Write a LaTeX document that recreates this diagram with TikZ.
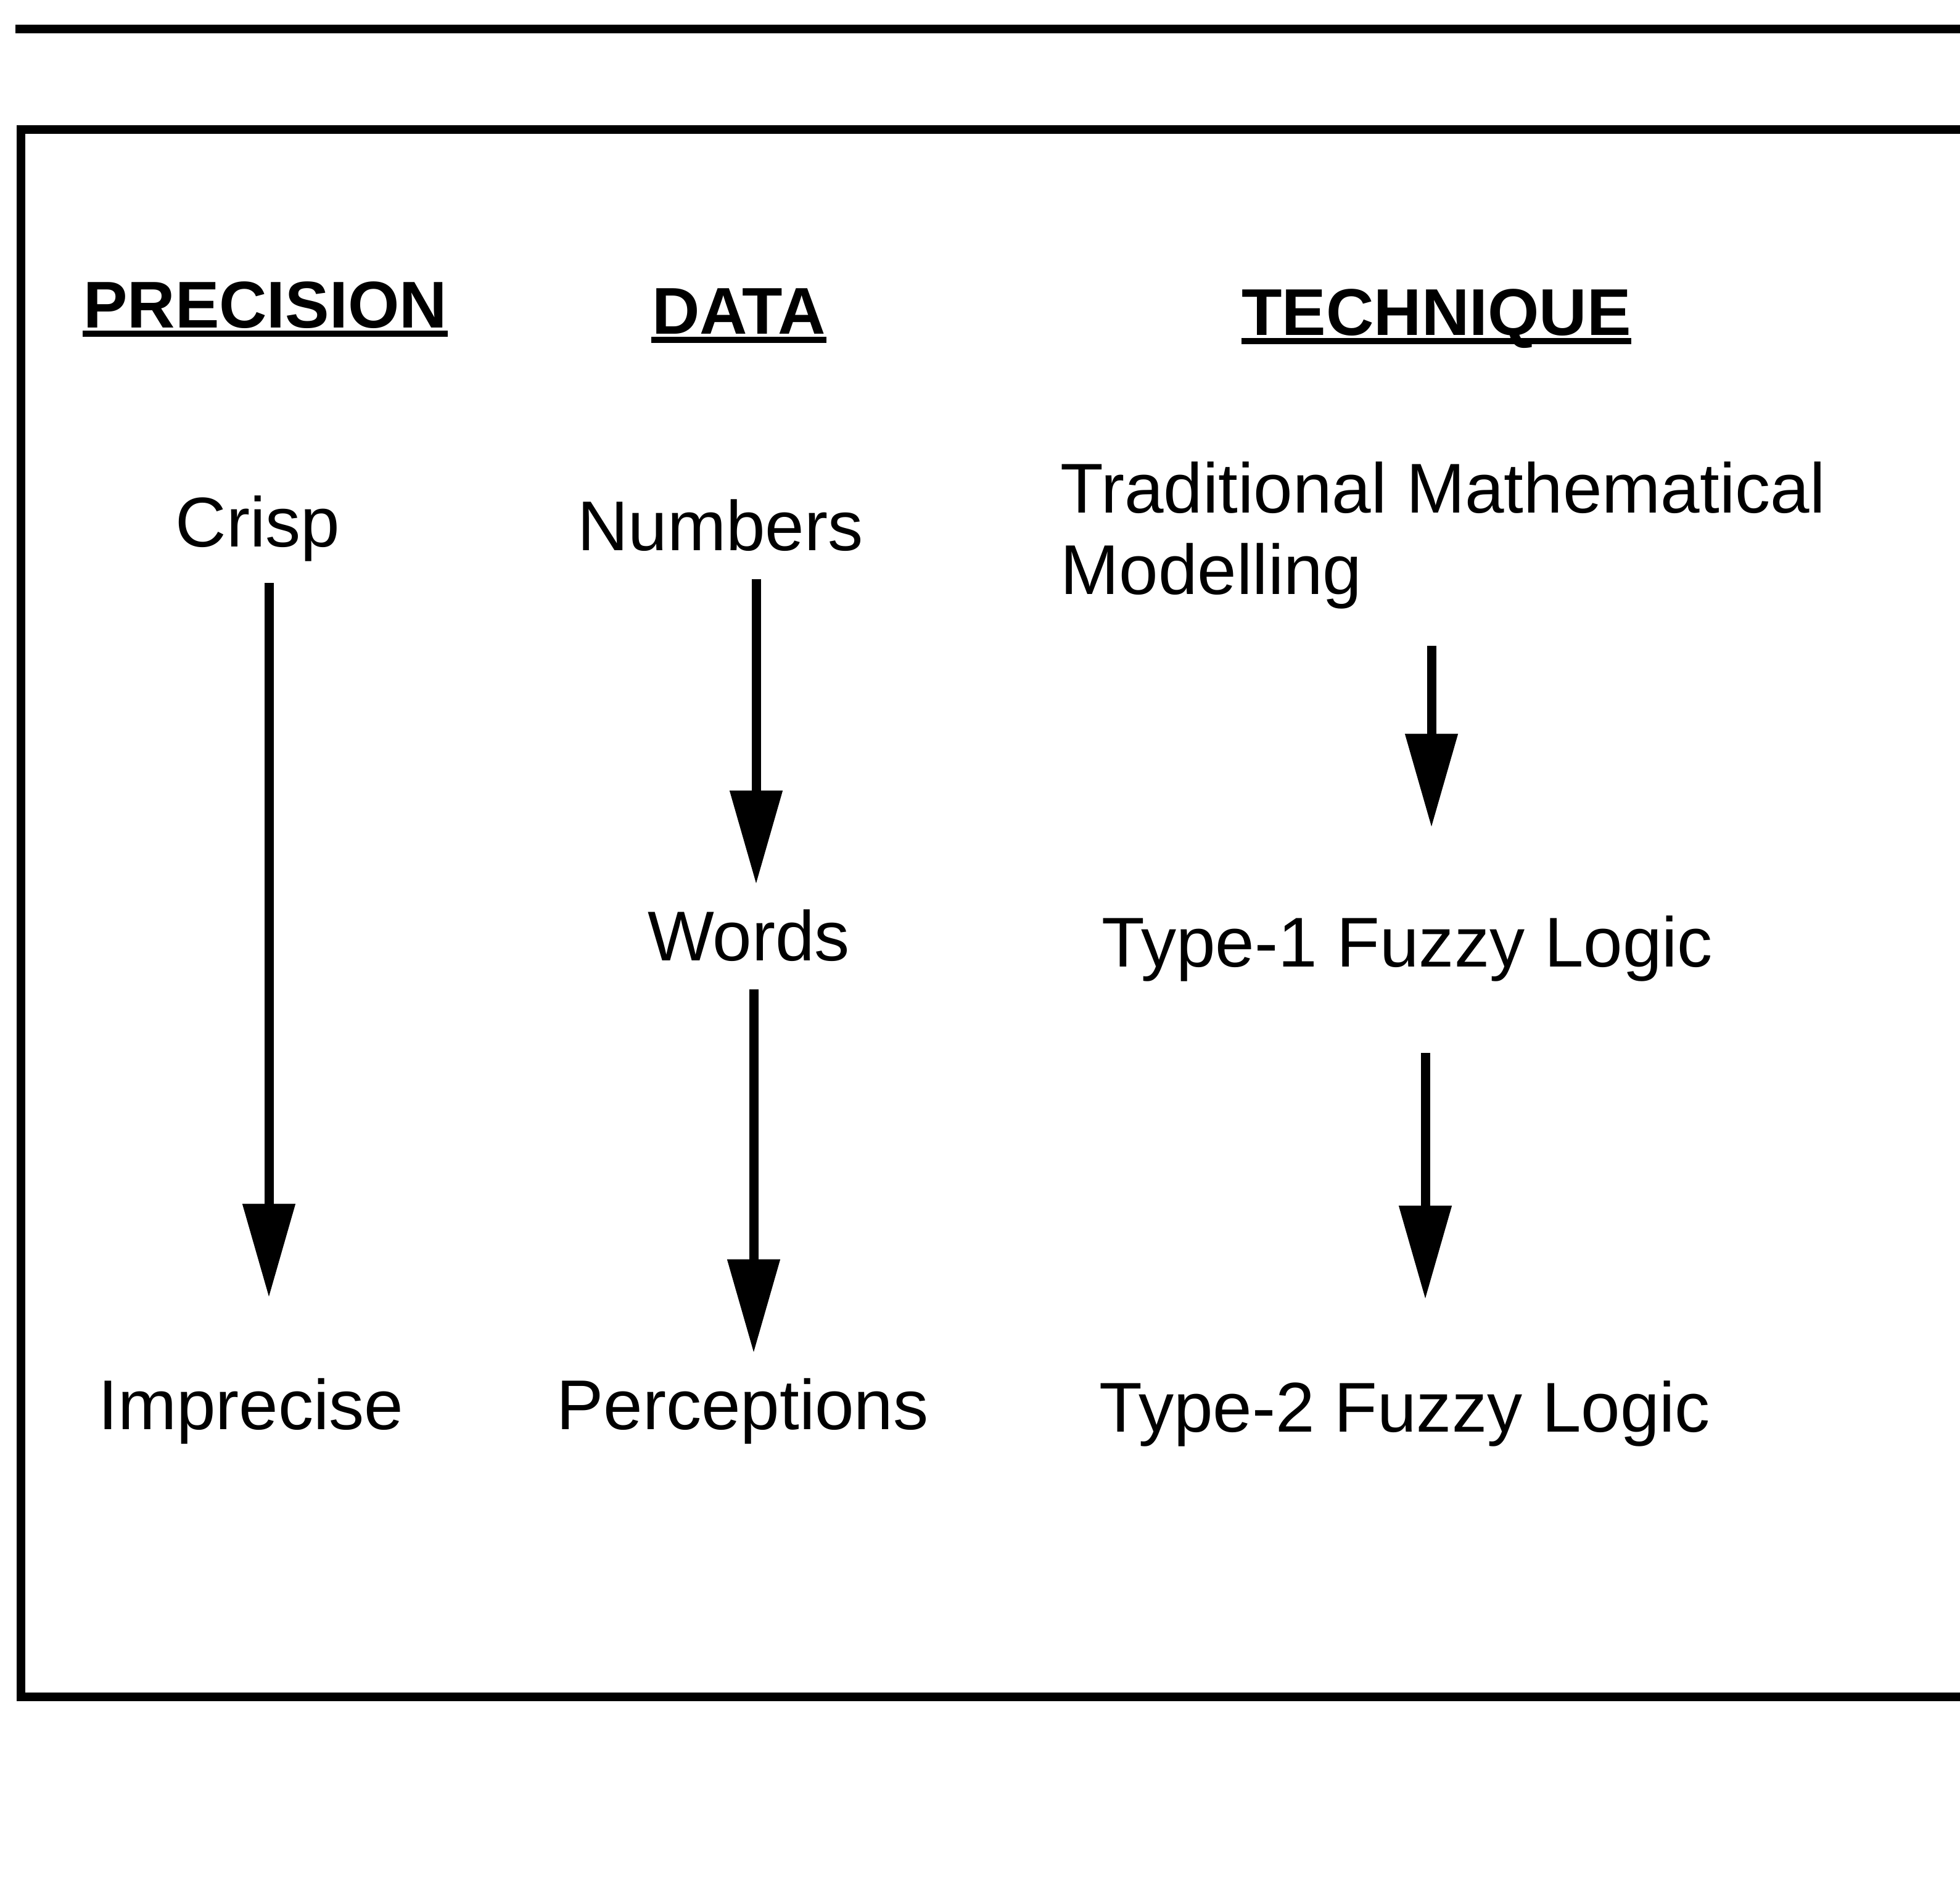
\documentclass[tikz,border=0pt]{standalone}
\usepackage{fontspec}
\setmainfont{Liberation Sans}
\usetikzlibrary{arrows.meta}
\tikzset{
  rule/.style={line width=0.14cm, line cap=butt},
  head/.style={font=\fontsize{30.5}{36}\selectfont\bfseries, inner sep=0pt, anchor=base},
  label/.style={font=\fontsize{32.5}{37.5}\selectfont, inner sep=0pt, anchor=base},
  uline/.style={line width=0.1cm},
  arr/.style={line width=0.15cm, -{Triangle[length=1.52cm, width=0.82cm]}}
}
\begin{document}
\begin{tikzpicture}
\useasboundingbox (0,0) rectangle (31.78,-30.68);
% top rule and frame
\draw[rule] (0.25,-0.47) -- (31.78,-0.47);
\draw[rule] (31.78,-2.10) -- (0.34,-2.10) -- (0.34,-27.51) -- (31.78,-27.51);

% column headings
\node[head] (hprec) at (4.30,-5.31) {PRECISION};
\node[head] (hdata) at (11.98,-5.41) {DATA};
\node[head] (htech) at (23.29,-5.43) {TECHNIQUE};
\foreach \h in {hprec,hdata,htech}
  \draw[uline] ([yshift=-0.1cm]\h.base west) -- ([yshift=-0.1cm]\h.base east);

% precision column
\node[label] (crisp) at (4.18,-8.86) {Crisp};
\node[label] (impr) at (4.07,-23.17) {Imprecise};

% data column
\node[label] (numb) at (11.68,-8.92) {Numbers};
\node[label] (words) at (12.14,-15.57) {Words};
\node[label] (perc) at (12.04,-23.17) {Perceptions};

% technique column
\node[label, anchor=base west, align=left] (trad) at (17.19,-9.63)
  {Traditional Mathematical\\Modelling};
\node[label] (t1) at (22.82,-15.67) {Type-1 Fuzzy Logic};
\node[label] (t2) at (22.78,-23.21) {Type-2 Fuzzy Logic};

% arrows
\draw[arr] ([xshift=0.18cm,yshift=-0.35cm]crisp.south) -- ([xshift=0.18cm,yshift=1.3cm]crisp.south |- impr.north);
\draw[arr] ([xshift=0.58cm,yshift=-0.45cm]numb.south) -- ([xshift=0.58cm,yshift=0.4cm]numb.south |- words.north);
\draw[arr] ([xshift=0.08cm,yshift=-0.45cm]words.south) -- ([xshift=0.08cm,yshift=0.4cm]words.south |- perc.north);
\draw[arr] ([xshift=0.39cm,yshift=-0.6cm]t1.north |- trad.south) -- ([xshift=0.39cm,yshift=1.42cm]t1.north);
\draw[arr] ([xshift=0.29cm,yshift=-1.16cm]t1.south) -- ([xshift=0.29cm,yshift=1.31cm]t1.south |- t2.north);
\end{tikzpicture}
\end{document}
